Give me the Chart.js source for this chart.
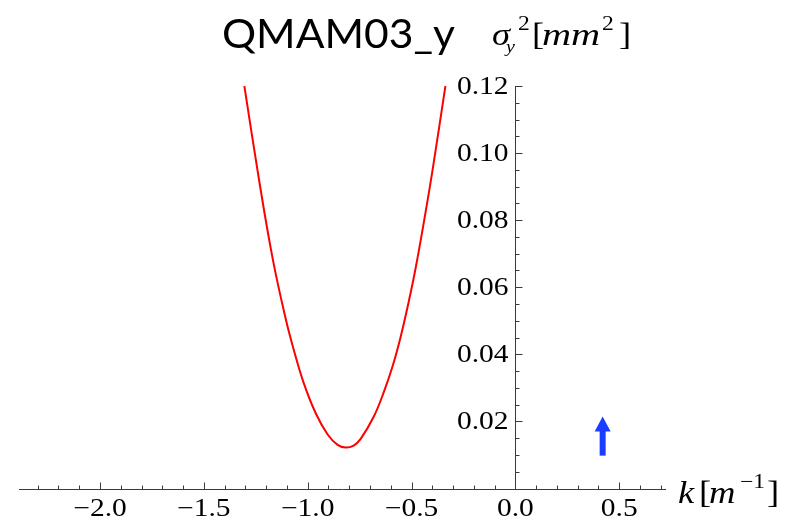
<!DOCTYPE html>
<html>
<head>
<meta charset="utf-8">
<script src="https://cdn.jsdelivr.net/npm/chart.js@4"></script>
<style>
  html, body { margin: 0; padding: 0; background: #fff; }
  #wrap { width: 791px; height: 523px; }
</style>
</head>
<body>
<div id="wrap"><canvas id="chart-qmam03-y" width="791" height="523"></canvas></div>
<script>
// quad scan: beam size squared vs quadrupole strength
const curve_k = [
    -1.305, -1.234, -1.168, -1.106, -1.067, -1.019, -0.962, -0.904, -0.856, -0.817,
    -0.779, -0.745, -0.683, -0.635, -0.591, -0.553, -0.514, -0.481, -0.433, -0.399, -0.337
]
const curve_sigma2 = [
    0.1200, 0.0919, 0.0683, 0.0506, 0.0413, 0.0314, 0.0225, 0.0161, 0.0130, 0.0122,
    0.0128, 0.0148, 0.0213, 0.0285, 0.0365, 0.0451, 0.0556, 0.0655, 0.0822, 0.0949, 0.1200
]

// current working point marker
const marker_k = 0.42
const marker_from = 0.0098
const marker_to = 0.0215

const x_ticks = [-2.0, -1.5, -1.0, -0.5, 0.0, 0.5]
const x_tick_labels = ['\u22122.0', '\u22121.5', '\u22121.0', '\u22120.5', '0.0', '0.5']
const y_ticks = [0.02, 0.04, 0.06, 0.08, 0.10, 0.12]
const y_tick_labels = ['0.02', '0.04', '0.06', '0.08', '0.10', '0.12']

const title_text = 'QMAM03_y'

const axis_color = '#3a3a3a'
const curve_color = '#ff0000'
const marker_color = '#1a3dff'
const serif = '"Liberation Serif", "DejaVu Serif", serif'
const stretch = 1.18

function wide_text(ctx, text, px, py, align, sx) {
    ctx.save()
    ctx.translate(px, py)
    ctx.scale(sx || stretch, 1)
    ctx.textAlign = align
    ctx.fillText(text, 0, 0)
    ctx.restore()
}

// Mathematica-style axes crossing at the origin, ticks on the inside
const cross_axes = {
    id: 'cross_axes',
    afterDraw(chart) {
        const ctx = chart.ctx
        const xs = chart.scales.x
        const ys = chart.scales.y
        const ox = Math.round(xs.getPixelForValue(0)) + 0.5
        const oy = Math.round(ys.getPixelForValue(0)) + 0.5

        ctx.save()
        ctx.strokeStyle = axis_color
        ctx.lineWidth = 1
        ctx.beginPath()
        ctx.moveTo(xs.left, oy)
        ctx.lineTo(xs.right, oy)
        ctx.moveTo(ox, oy)
        ctx.lineTo(ox, ys.top)

        for (let i = -23; i <= 7; i++) {
            const px = Math.round(xs.getPixelForValue(i / 10)) + 0.5
            const len = (i % 5 === 0) ? 7 : 4
            ctx.moveTo(px, oy)
            ctx.lineTo(px, oy - len)
        }
        for (let i = 1; i <= 24; i++) {
            const py = Math.round(ys.getPixelForValue(i * 0.005)) + 0.5
            const len = (i % 4 === 0) ? 7 : 4
            ctx.moveTo(ox, py)
            ctx.lineTo(ox + len, py)
        }
        ctx.stroke()

        ctx.fillStyle = '#000'
        ctx.font = '25px ' + serif
        ctx.textBaseline = 'alphabetic'
        x_ticks.forEach((v, i) => {
            wide_text(ctx, x_tick_labels[i], xs.getPixelForValue(v), oy + 26, 'center')
        })
        y_ticks.forEach((v, i) => {
            wide_text(ctx, y_tick_labels[i], ox - 7, ys.getPixelForValue(v) + 8, 'right')
        })

        // axis labels
        ctx.font = 'italic 31px ' + serif
        wide_text(ctx, 'k', 678, 503, 'left')
        ctx.font = '31px ' + serif
        wide_text(ctx, '[', 699, 503, 'left')
        ctx.font = 'italic 31px ' + serif
        wide_text(ctx, 'm', 709, 503, 'left')
        ctx.font = '20px ' + serif
        wide_text(ctx, '\u22121', 740, 488, 'left')
        ctx.font = '31px ' + serif
        wide_text(ctx, ']', 767, 503, 'left')

        ctx.font = 'italic 31px ' + serif
        wide_text(ctx, '\u03c3', 492, 45, 'left')
        ctx.font = 'italic 17px ' + serif
        wide_text(ctx, 'y', 506, 52, 'left')
        ctx.font = '20px ' + serif
        wide_text(ctx, '2', 518, 30, 'left')
        ctx.font = '31px ' + serif
        wide_text(ctx, '[', 532, 45, 'left')
        ctx.font = 'italic 31px ' + serif
        wide_text(ctx, 'mm', 542, 45, 'left', 1.3)
        ctx.font = '20px ' + serif
        wide_text(ctx, '2', 602, 30, 'left')
        ctx.font = '31px ' + serif
        wide_text(ctx, ']', 619, 45, 'left')

        // title
        ctx.font = '40px Lato, "Open Sans", sans-serif'
        const w = ctx.measureText(title_text).width
        ctx.save()
        ctx.translate(222, 48)
        ctx.scale(233 / w, 1)
        ctx.textAlign = 'left'
        ctx.fillText(title_text, 0, 0)
        ctx.restore()

        // blue arrow at the working point
        const ax = xs.getPixelForValue(marker_k)
        const a0 = ys.getPixelForValue(marker_from)
        const a1 = ys.getPixelForValue(marker_to)
        ctx.fillStyle = marker_color
        ctx.fillRect(ax - 3, a1 + 14, 6, a0 - a1 - 14)
        ctx.beginPath()
        ctx.moveTo(ax, a1)
        ctx.lineTo(ax + 8, a1 + 15)
        ctx.lineTo(ax - 8, a1 + 15)
        ctx.closePath()
        ctx.fill()
        ctx.restore()
    }
}

const chart_data = {
    datasets: [{
        data: curve_k.map((k, i) => ({ x: k, y: curve_sigma2[i] })),
        borderColor: curve_color,
        borderWidth: 2,
        pointRadius: 0,
        fill: false,
        tension: 0.4
    }]
}

const chart_config = {
    responsive: false,
    animation: false,
    layout: {
        padding: { left: 19, right: 125, top: 86, bottom: 34.5 }
    },
    plugins: {
        legend: { display: false },
        tooltip: { enabled: false }
    },
    scales: {
        x: { type: 'linear', min: -2.39, max: 0.725, display: false },
        y: { type: 'linear', min: 0, max: 0.12, display: false }
    }
}

new Chart('chart-qmam03-y', {
    type: 'line',
    data: chart_data,
    options: chart_config,
    plugins: [cross_axes]
})
</script>
</body>
</html>
